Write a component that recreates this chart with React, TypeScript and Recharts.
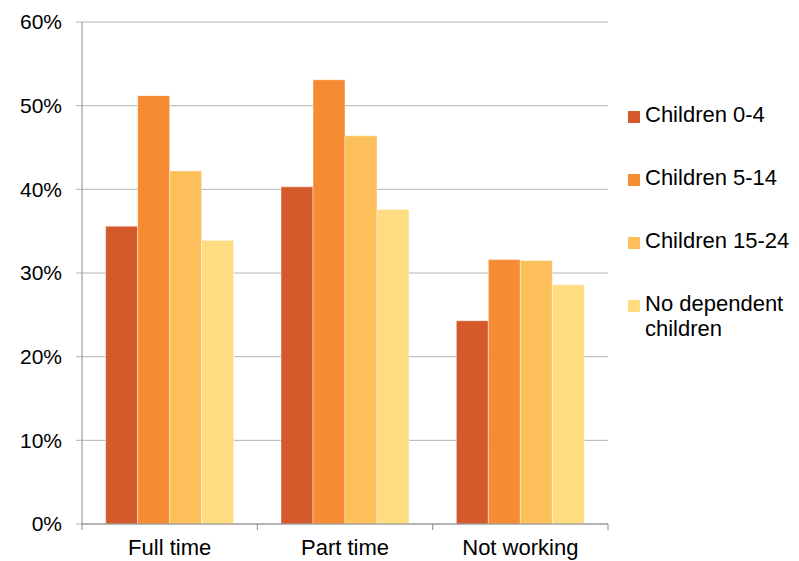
import React from 'react';
import { BarChart, Bar, XAxis, YAxis, CartesianGrid } from 'recharts';

const categories = ['Full time', 'Part time', 'Not working'];
const children04 = [35.6, 40.3, 24.3];
const children514 = [51.2, 53.1, 31.6];
const children1524 = [42.2, 46.4, 31.5];
const noDependent = [33.9, 37.6, 28.6];
const yTicks = [0, 10, 20, 30, 40, 50, 60];

const series = [
  { key: 'c04', name: 'Children 0-4', color: '#D4592B', values: children04 },
  { key: 'c514', name: 'Children 5-14', color: '#F58B33', values: children514 },
  { key: 'c1524', name: 'Children 15-24', color: '#FDBF59', values: children1524 },
  { key: 'nodep', name: 'No dependent children', color: '#FFDC7F', values: noDependent },
];

const data = categories.map((name, i) => {
  const row: any = { name };
  series.forEach((s) => {
    row[s.key] = s.values[i];
  });
  return row;
});

const W = 799;
const H = 561;
const LEFT = 82;
const RIGHT = 191;
const band = (W - LEFT - RIGHT) / categories.length;
const font = 'Arial, "Liberation Sans", sans-serif';

// category labels centred, tick marks on the category boundaries
const XTick: React.FC<any> = ({ x, y, payload, index }) => {
  const last = index === categories.length - 1;
  return (
    <g>
      <line x1={x - band / 2} x2={x - band / 2} y1={y} y2={y + 6} stroke="#8c8c8c" />
      {last && <line x1={x + band / 2} x2={x + band / 2} y1={y} y2={y + 6} stroke="#8c8c8c" />}
      <text x={x} y={y + 31} textAnchor="middle" fontSize={22} fill="#000" fontFamily={font}>
        {payload.value}
      </text>
    </g>
  );
};

const App: React.FC = () => {
  return (
    <div style={{ position: 'absolute', left: 0, top: 0, width: W, height: H, background: '#fff' }}>
      <BarChart
        width={W}
        height={H}
        data={data}
        margin={{ top: 22, right: RIGHT, bottom: 0, left: 0 }}
        barCategoryGap="13.5%"
        barGap={0}
      >
        <CartesianGrid vertical={false} stroke="#b4b4b4" />
        <XAxis
          dataKey="name"
          height={37}
          axisLine={{ stroke: '#8c8c8c' }}
          tickLine={false}
          tickSize={0}
          tickMargin={0}
          tick={<XTick />}
          interval={0}
        />
        <YAxis
          width={LEFT}
          domain={[0, 60]}
          ticks={yTicks}
          interval={0}
          tickFormatter={(v) => `${v}%`}
          axisLine={{ stroke: '#8c8c8c' }}
          tickLine={{ stroke: '#b4b4b4' }}
          tickSize={6}
          tickMargin={14}
          tick={{ fill: '#000', fontSize: 21, fontFamily: font }}
        />
        {series.map((s) => (
          <Bar
            key={s.key}
            dataKey={s.key}
            name={s.name}
            fill={s.color}
            stroke="rgba(255,255,255,0.45)"
            strokeWidth={1}
            isAnimationActive={false}
          />
        ))}
      </BarChart>
      <div style={{ position: 'absolute', left: 628, top: 102, fontFamily: font, fontSize: 22, color: '#000' }}>
        {series.map((s) => (
          <div key={s.key} style={{ display: 'flex', alignItems: 'flex-start', height: 63 }}>
            <div style={{ width: 12, height: 12, background: s.color, marginTop: 9, marginRight: 5, flexShrink: 0 }} />
            <div style={{ width: 150, lineHeight: '25px' }}>{s.name}</div>
          </div>
        ))}
      </div>
    </div>
  );
};

export default App;
